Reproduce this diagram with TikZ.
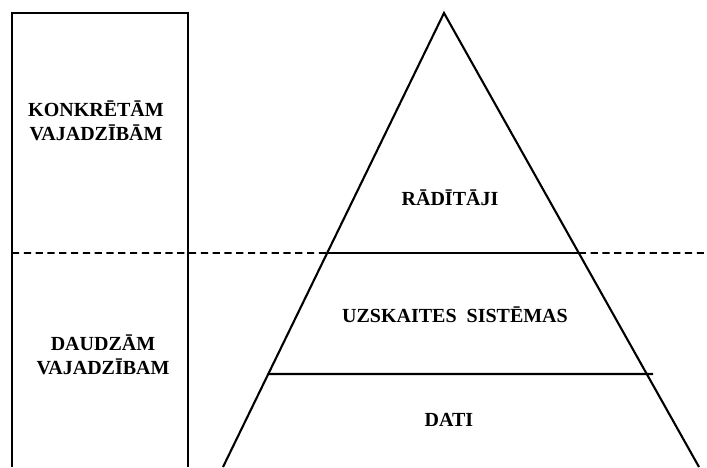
\documentclass[tikz,border=0pt]{standalone}
\usepackage{fontspec}
\setmainfont{Liberation Serif}
\usetikzlibrary{calc}
\tikzset{
	layer/.style   = {font=\bfseries\fontsize{10}{12.2}\selectfont,
		align=center, inner sep=0pt},
	need/.style    = {layer},
	edge/.style    = {line width=1.05pt, line join=miter},
	border/.style  = {line width=0.9pt, dash pattern=on 3.6pt off 2.3pt}
}
\begin{document}
\begin{tikzpicture}
	[
	x = 0.5pt,
	y = -0.5pt
	]
	\useasboundingbox (0,0) rectangle (707,467);
	% column on the left
	\coordinate (colBL) at (12,467);
	\coordinate (colTL) at (12,13);
	\coordinate (colTR) at (188,13);
	\coordinate (colBR) at (188,467);
	\draw [edge] (colBL) -- (colTL) -- (colTR) -- (colBR);
	% pyramid
	\coordinate (apex)  at (444,13);
	\coordinate (baseL) at (223,467);
	\coordinate (baseR) at (699,467);
	\draw [edge] (baseL) -- (apex) -- (baseR);
	\coordinate (midL) at ($(apex)!0.5286!(baseL)$);
	\coordinate (midR) at ($(apex)!0.5286!(baseR)$);
	\coordinate (lowL) at ($(apex)!0.7952!(baseL)$);
	\coordinate (lowR) at (653,374);
	\draw [edge] (midL) -- (midR);
	\draw [edge] (lowL) -- (lowR);
	% border between the two kinds of needs
	\coordinate (dashL) at (12,253);
	\coordinate (dashR) at (707,253);
	\draw [border] (dashL) -- (midL);
	\draw [border] (midR) -- (dashR);
	% labels
	\node [need]  (specific) at (96,121)  {KONKRĒTĀM\\VAJADZĪBĀM};
	\node [need]  (many)     at (103,355) {DAUDZĀM\\VAJADZĪBAM};
	\node [layer] (indic)    at (450,198) {RĀDĪTĀJI};
	\node [layer] (systems)  at (455,315) {UZSKAITES\hspace{0.25em} SISTĒMAS};
	\node [layer] (data)     at (449,420) {DATI};
\end{tikzpicture}
\end{document}
